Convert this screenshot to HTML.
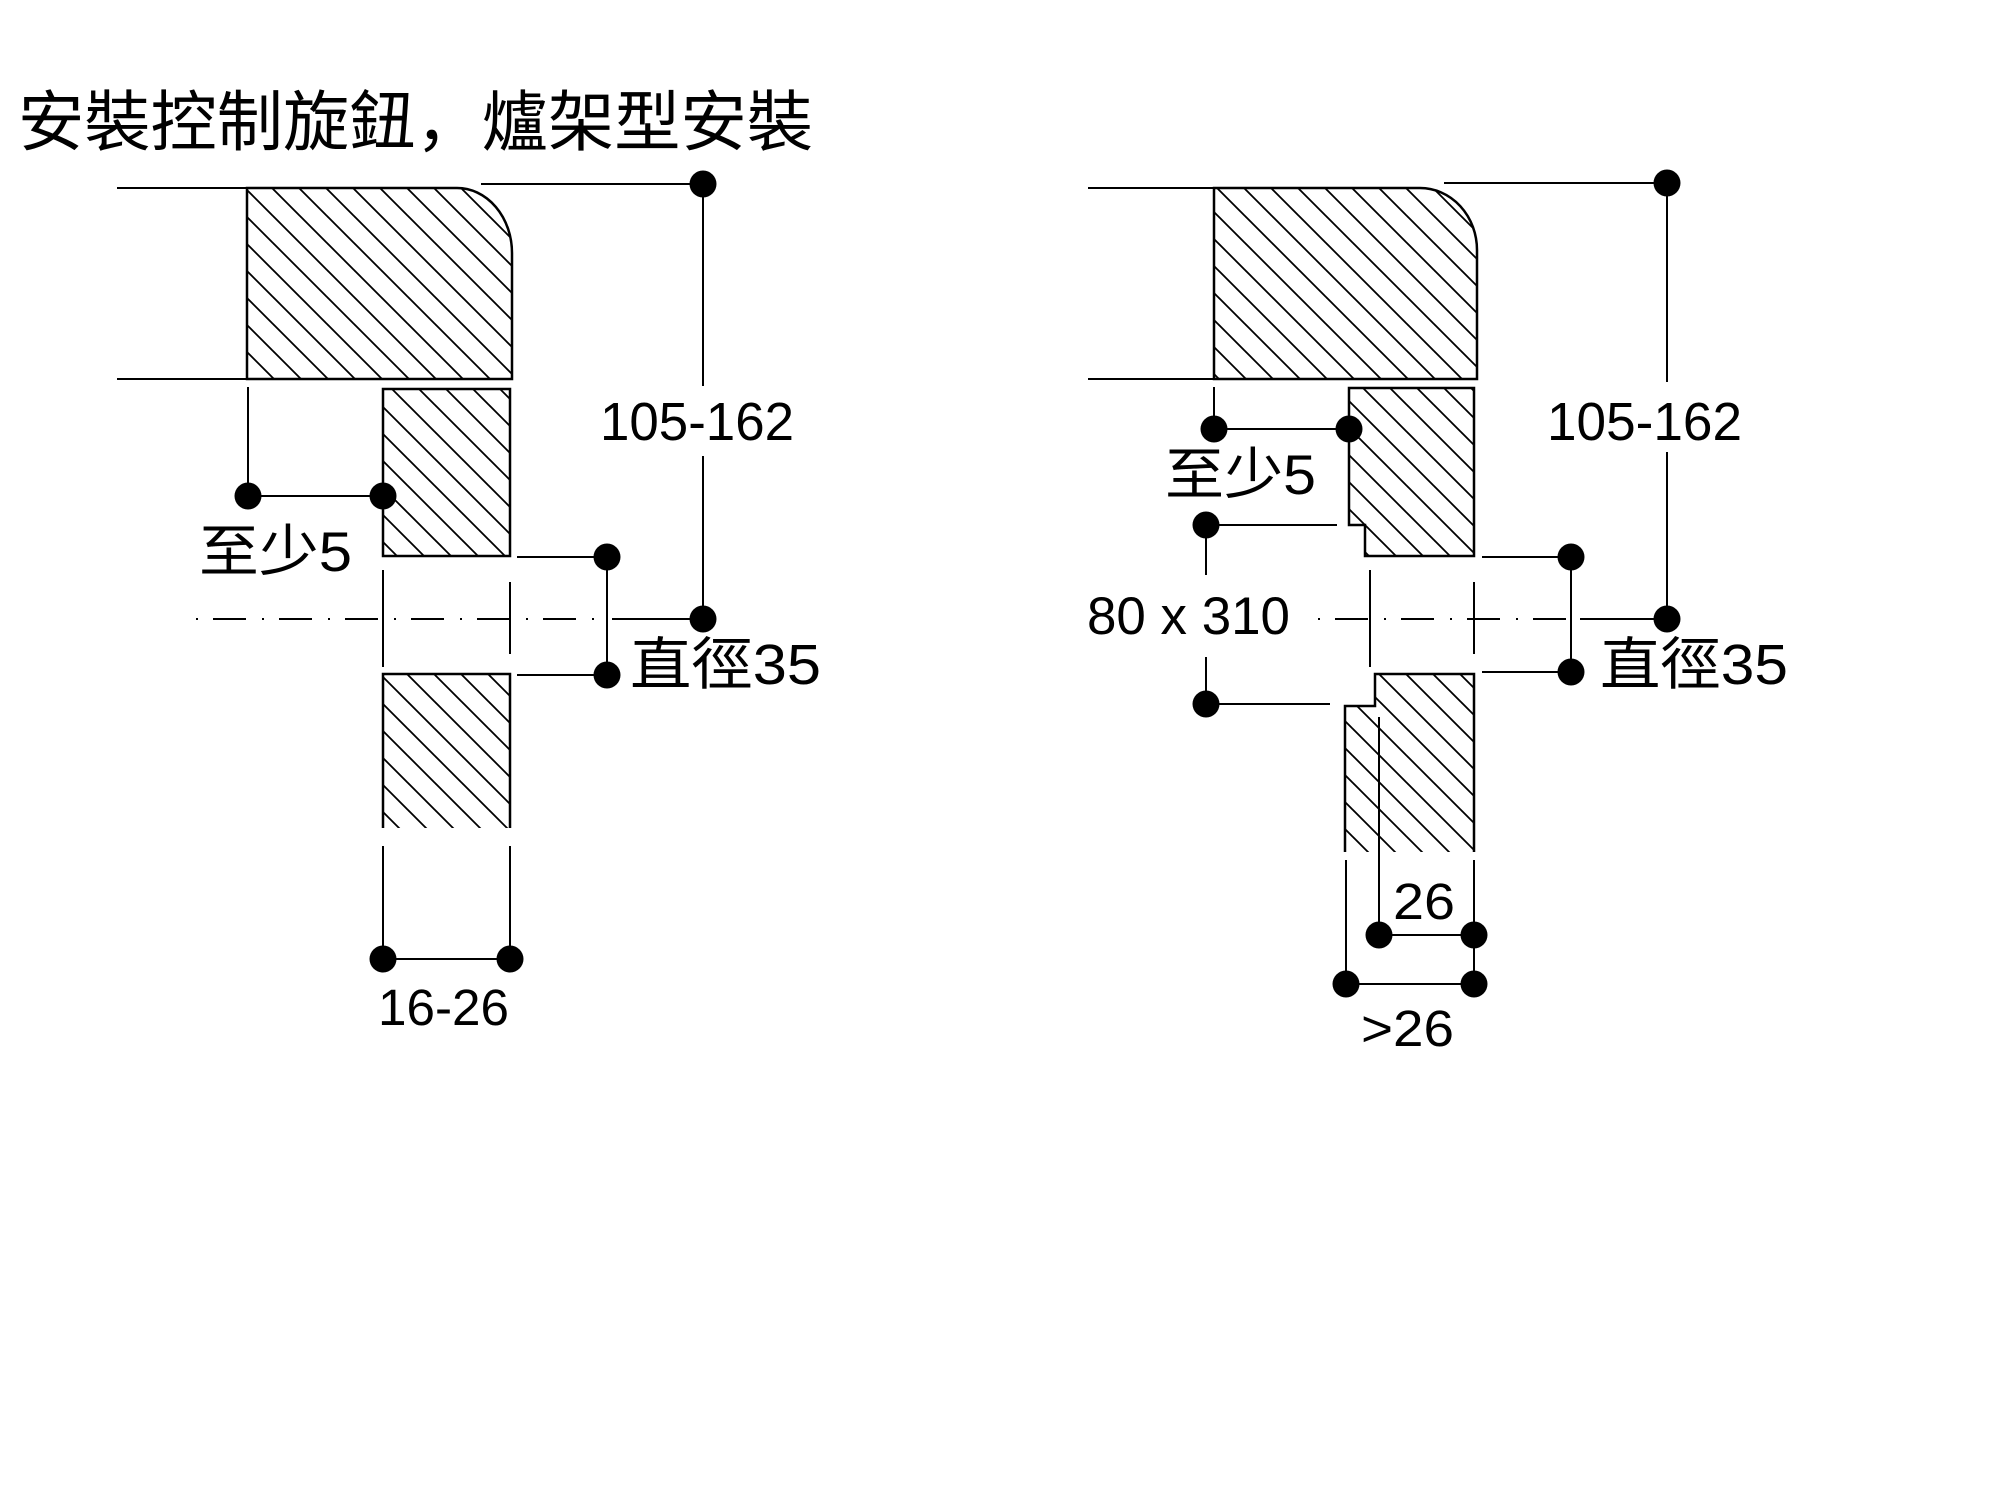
<!DOCTYPE html>
<html>
<head>
<meta charset="utf-8">
<style>
html,body{margin:0;padding:0;background:#fff;}
svg{display:block;}
text{font-family:"Liberation Sans","Noto Sans CJK TC",sans-serif;fill:#000;}
text.t{font-family:"Liberation Sans","Noto Sans CJK SC",sans-serif;}
</style>
</head>
<body>
<svg width="2000" height="1494" viewBox="0 0 2000 1494" xmlns="http://www.w3.org/2000/svg">
<defs>
<pattern id="h" patternUnits="userSpaceOnUse" width="27" height="27" x="3" y="0">
<g stroke="#000" stroke-width="1.8">
<line x1="0" y1="0" x2="27" y2="27"/>
<line x1="-3" y1="24" x2="3" y2="30"/>
<line x1="24" y1="-3" x2="30" y2="3"/>
</g>
</pattern>
</defs>
<rect width="2000" height="1494" fill="#fff"/>

<!-- Title -->
<text class="t" x="18" y="145" font-size="66" textLength="795" lengthAdjust="spacingAndGlyphs">安裝控制旋鈕，爐架型安裝</text>

<g stroke="#000" fill="none" stroke-width="2">
<!-- ================= LEFT DIAGRAM ================= -->
<line x1="117" y1="188" x2="247" y2="188"/>
<line x1="117" y1="379" x2="512" y2="379"/>
<path d="M247,188 H457 A55,65 0 0 1 512,253 V379 H247 Z" fill="url(#h)" stroke-width="2.5"/>
<line x1="481" y1="184" x2="703" y2="184"/>
<line x1="703" y1="184" x2="703" y2="386"/>
<line x1="703" y1="456" x2="703" y2="619"/>
<line x1="248" y1="387" x2="248" y2="496"/>
<line x1="248" y1="496" x2="383" y2="496"/>
<rect x="383" y="389" width="127" height="167" fill="url(#h)" stroke-width="2.5"/>
<rect x="383" y="674" width="127" height="154" fill="url(#h)" stroke="none"/>
<path d="M383,828 V674 H510 V828" stroke-width="2.5"/>
<line x1="517" y1="557" x2="607" y2="557"/>
<line x1="517" y1="675" x2="607" y2="675"/>
<line x1="607" y1="557" x2="607" y2="675"/>
<line x1="196" y1="619" x2="602" y2="619" stroke-dasharray="2 15 33 16"/>
<line x1="612" y1="619" x2="703" y2="619"/>
<line x1="383" y1="570" x2="383" y2="667"/>
<line x1="510" y1="582" x2="510" y2="654"/>
<line x1="383" y1="846" x2="383" y2="959"/>
<line x1="510" y1="846" x2="510" y2="959"/>
<line x1="383" y1="959" x2="510" y2="959"/>

<!-- ================= RIGHT DIAGRAM ================= -->
<line x1="1088" y1="188" x2="1214" y2="188"/>
<line x1="1088" y1="379" x2="1477" y2="379"/>
<path d="M1214,188 H1420 A57,62 0 0 1 1477,250 V379 H1214 Z" fill="url(#h)" stroke-width="2.5"/>
<line x1="1444" y1="183" x2="1667" y2="183"/>
<line x1="1667" y1="183" x2="1667" y2="382"/>
<line x1="1667" y1="452" x2="1667" y2="619"/>
<line x1="1214" y1="387" x2="1214" y2="429"/>
<line x1="1214" y1="429" x2="1349" y2="429"/>
<path d="M1349,388 H1474 V556 H1365 V525 H1349 Z" fill="url(#h)" stroke-width="2.5"/>
<line x1="1206" y1="525" x2="1337" y2="525"/>
<line x1="1206" y1="525" x2="1206" y2="575"/>
<line x1="1206" y1="657" x2="1206" y2="704"/>
<line x1="1206" y1="704" x2="1330" y2="704"/>
<path d="M1375,674 H1474 V852 H1345 V706 H1375 Z" fill="url(#h)" stroke="none"/>
<path d="M1345,852 V706 H1375 V674 H1474 V852" stroke-width="2.5"/>
<line x1="1379" y1="717" x2="1379" y2="935"/>
<line x1="1482" y1="557" x2="1571" y2="557"/>
<line x1="1482" y1="672" x2="1571" y2="672"/>
<line x1="1571" y1="557" x2="1571" y2="672"/>
<line x1="1318" y1="619" x2="1570" y2="619" stroke-dasharray="2 15 33 16"/>
<line x1="1580" y1="619" x2="1667" y2="619"/>
<line x1="1370" y1="570" x2="1370" y2="667"/>
<line x1="1474" y1="582" x2="1474" y2="654"/>
<line x1="1346" y1="860" x2="1346" y2="984"/>
<line x1="1474" y1="860" x2="1474" y2="984"/>
<line x1="1379" y1="935" x2="1474" y2="935"/>
<line x1="1346" y1="984" x2="1474" y2="984"/>
</g>

<g fill="#000">
<circle cx="703" cy="184" r="13.5"/>
<circle cx="703" cy="619" r="13.5"/>
<circle cx="248" cy="496" r="13.5"/>
<circle cx="383" cy="496" r="13.5"/>
<circle cx="607" cy="557" r="13.5"/>
<circle cx="607" cy="675" r="13.5"/>
<circle cx="383" cy="959" r="13.5"/>
<circle cx="510" cy="959" r="13.5"/>

<circle cx="1667" cy="183" r="13.5"/>
<circle cx="1667" cy="619" r="13.5"/>
<circle cx="1214" cy="429" r="13.5"/>
<circle cx="1349" cy="429" r="13.5"/>
<circle cx="1206" cy="525" r="13.5"/>
<circle cx="1206" cy="704" r="13.5"/>
<circle cx="1571" cy="557" r="13.5"/>
<circle cx="1571" cy="672" r="13.5"/>
<circle cx="1379" cy="935" r="13.5"/>
<circle cx="1474" cy="935" r="13.5"/>
<circle cx="1346" cy="984" r="13.5"/>
<circle cx="1474" cy="984" r="13.5"/>
</g>

<text x="600" y="440" font-size="54" textLength="194" lengthAdjust="spacingAndGlyphs">105-162</text>
<text x="199" y="571" font-size="56" textLength="153" lengthAdjust="spacingAndGlyphs">至少5</text>
<text x="630" y="684" font-size="57" textLength="191" lengthAdjust="spacingAndGlyphs">直徑35</text>
<text x="378" y="1025" font-size="51" textLength="131" lengthAdjust="spacingAndGlyphs">16-26</text>

<text x="1547" y="440" font-size="54" textLength="195" lengthAdjust="spacingAndGlyphs">105-162</text>
<text x="1165" y="494" font-size="56" textLength="151" lengthAdjust="spacingAndGlyphs">至少5</text>
<text x="1087" y="634" font-size="53" textLength="203" lengthAdjust="spacingAndGlyphs">80 x 310</text>
<text x="1600" y="684" font-size="57" textLength="188" lengthAdjust="spacingAndGlyphs">直徑35</text>
<text x="1393" y="919" font-size="51" textLength="62" lengthAdjust="spacingAndGlyphs">26</text>
<text x="1361" y="1046" font-size="51" textLength="93" lengthAdjust="spacingAndGlyphs">&gt;26</text>
</svg>
</body>
</html>
